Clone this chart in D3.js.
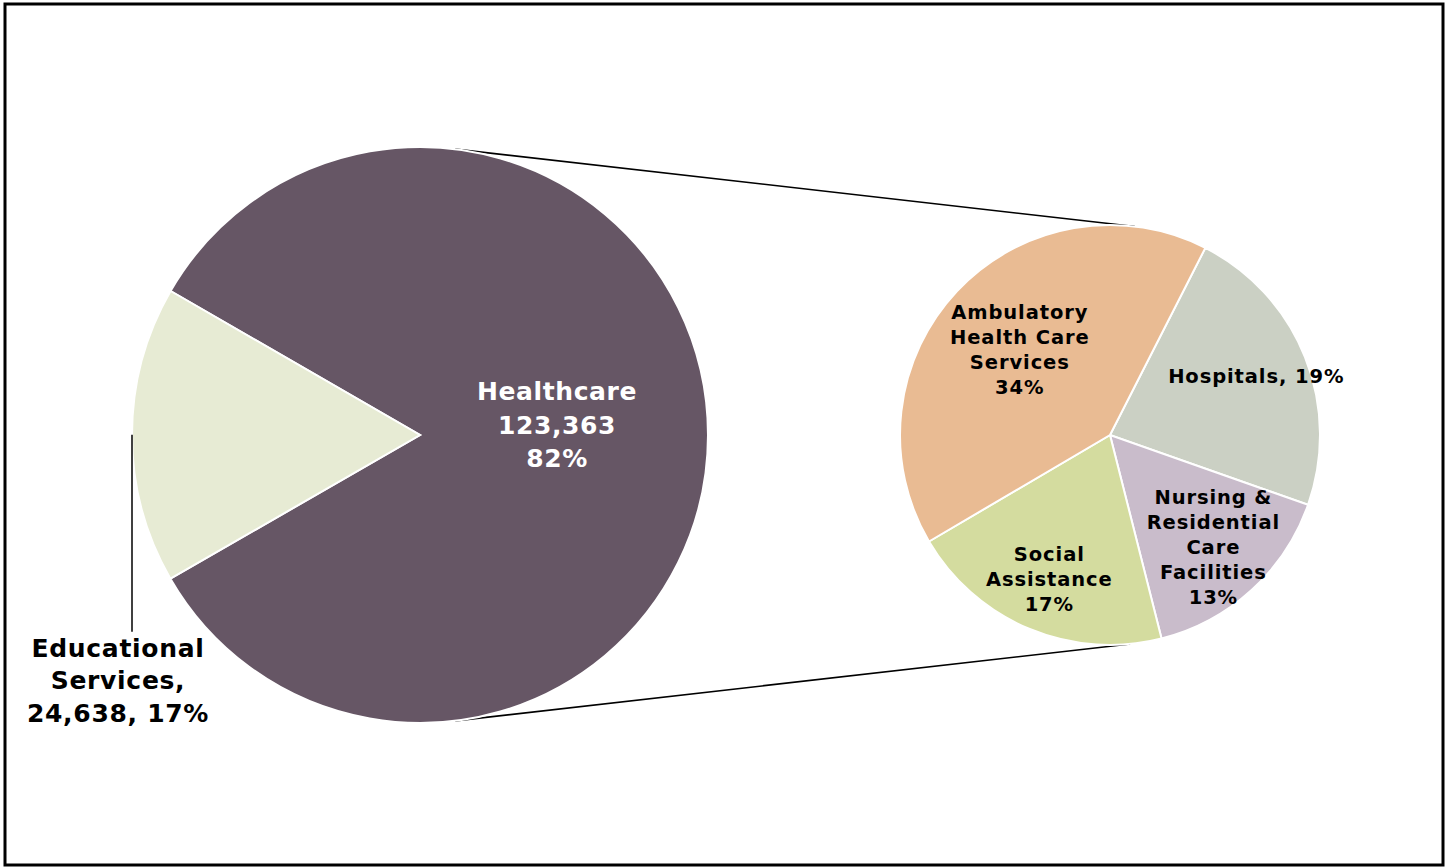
<!DOCTYPE html>
<html>
<head>
<meta charset="utf-8">
<script src="https://cdn.jsdelivr.net/npm/d3@7"></script>
<style>
  html, body { margin: 0; padding: 0; background: #fff; }
  svg { display: block; font-family: "DejaVu Sans", Verdana, sans-serif; font-weight: bold; }
</style>
</head>
<body>
<div id="chart"></div>
<script>
// main pie: sectors and employment counts
const mainNames = ['Healthcare', 'Educational Services'];
const mainValues = [123363, 24638];
const mainPct = ['82%', '17%'];
const mainColors = ['#665665', '#e7ebd4'];

// split of healthcare (share of total, %)
const subNames = ['Hospitals', 'Nursing & Residential Care Facilities', 'Social Assistance', 'Ambulatory Health Care Services'];
const subValues = [19, 13, 17, 34];
const subColors = ['#cbd0c4', '#c9bccb', '#d4dc9f', '#e9bb93'];
const subLabels = [
  ['Hospitals, 19%'],
  ['Nursing &', 'Residential', 'Care', 'Facilities', '13%'],
  ['Social', 'Assistance', '17%'],
  ['Ambulatory', 'Health Care', 'Services', '34%']
];
const subLabelRadius = [0.75, 0.73, 0.75, 0.59];

const width = 1447, height = 867;
const deg = Math.PI / 180;

const svg = d3.select('#chart').append('svg')
  .attr('width', width)
  .attr('height', height);

// frame
svg.append('rect')
  .attr('x', 5).attr('y', 4)
  .attr('width', 1438).attr('height', 861)
  .attr('fill', 'none')
  .attr('stroke', '#000')
  .attr('stroke-width', 3);

const big = { cx: 420, cy: 435, r: 288 };
const small = { cx: 1110, cy: 435, r: 210 };

const pt = (c, a, r) => [c.cx + Math.sin(a) * r, c.cy - Math.cos(a) * r];

// connector lines (drawn first, under the pies)
const connectors = [[7, 6.8], [173, 174.5]];
svg.append('g').selectAll('line')
  .data(connectors)
  .enter().append('line')
  .attr('x1', d => pt(big, d[0] * deg, big.r)[0])
  .attr('y1', d => pt(big, d[0] * deg, big.r)[1])
  .attr('x2', d => pt(small, d[1] * deg, small.r)[0])
  .attr('y2', d => pt(small, d[1] * deg, small.r)[1])
  .attr('stroke', '#000')
  .attr('stroke-width', 1.6);

// big pie
const mainPie = d3.pie().sort(null)
  .startAngle(-60 * deg).endAngle(300 * deg)(mainValues);
const bigArc = d3.arc().innerRadius(0).outerRadius(big.r);
const gBig = svg.append('g').attr('transform', `translate(${big.cx},${big.cy})`);
gBig.selectAll('path')
  .data(mainPie)
  .enter().append('path')
  .attr('d', bigArc)
  .attr('fill', (d, i) => mainColors[i])
  .attr('stroke', '#fff')
  .attr('stroke-width', 2);

// healthcare label inside
const hc = mainPie[0];
const hcMid = (hc.startAngle + hc.endAngle) / 2;
const hcPos = pt({ cx: 0, cy: 0 }, hcMid, 137);
const fmt = d3.format(',');
gBig.append('text')
  .attr('text-anchor', 'middle')
  .attr('fill', '#fff')
  .attr('font-size', 25)
  .attr('letter-spacing', 0.6)
  .selectAll('tspan')
  .data([mainNames[0], fmt(mainValues[0]), mainPct[0]])
  .enter().append('tspan')
  .attr('x', hcPos[0])
  .attr('y', (d, i) => hcPos[1] - 35 + i * 33.5)
  .text(d => d);

// educational label outside with leader
const ed = mainPie[1];
const edMid = (ed.startAngle + ed.endAngle) / 2;
const edEdge = pt({ cx: 0, cy: 0 }, edMid, big.r);
gBig.append('line')
  .attr('x1', edEdge[0]).attr('y1', edEdge[1])
  .attr('x2', edEdge[0]).attr('y2', edEdge[1] + 197)
  .attr('stroke', '#000')
  .attr('stroke-width', 1.5);
gBig.append('text')
  .attr('text-anchor', 'middle')
  .attr('fill', '#000')
  .attr('font-size', 25)
  .attr('letter-spacing', 0.7)
  .selectAll('tspan')
  .data(['Educational', 'Services,', fmt(mainValues[1]) + ', ' + mainPct[1]])
  .enter().append('tspan')
  .attr('x', edEdge[0] - 14)
  .attr('y', (d, i) => edEdge[1] + 222 + i * 32.5)
  .text(d => d);

// small pie
const subPie = d3.pie().sort(null)
  .startAngle(27 * deg).endAngle(387 * deg)(subValues);
const smallArc = d3.arc().innerRadius(0).outerRadius(small.r);
const gSmall = svg.append('g').attr('transform', `translate(${small.cx},${small.cy})`);
gSmall.selectAll('path')
  .data(subPie)
  .enter().append('path')
  .attr('d', smallArc)
  .attr('fill', (d, i) => subColors[i])
  .attr('stroke', '#fff')
  .attr('stroke-width', 2);

const lineH = 25;
gSmall.selectAll('text.lbl')
  .data(subPie)
  .enter().append('text')
  .attr('class', 'lbl')
  .attr('text-anchor', 'middle')
  .attr('fill', '#000')
  .attr('font-size', 19.5)
  .attr('letter-spacing', 0.9)
  .each(function(d, i) {
    const mid = (d.startAngle + d.endAngle) / 2;
    const p = pt({ cx: 0, cy: 0 }, mid, small.r * subLabelRadius[i]);
    const lines = subLabels[i];
    const y0 = p[1] - (lines.length - 1) * lineH / 2 + 6;
    d3.select(this).selectAll('tspan')
      .data(lines)
      .enter().append('tspan')
      .attr('x', p[0])
      .attr('y', (t, k) => y0 + k * lineH)
      .text(t => t);
  });
</script>
</body>
</html>
